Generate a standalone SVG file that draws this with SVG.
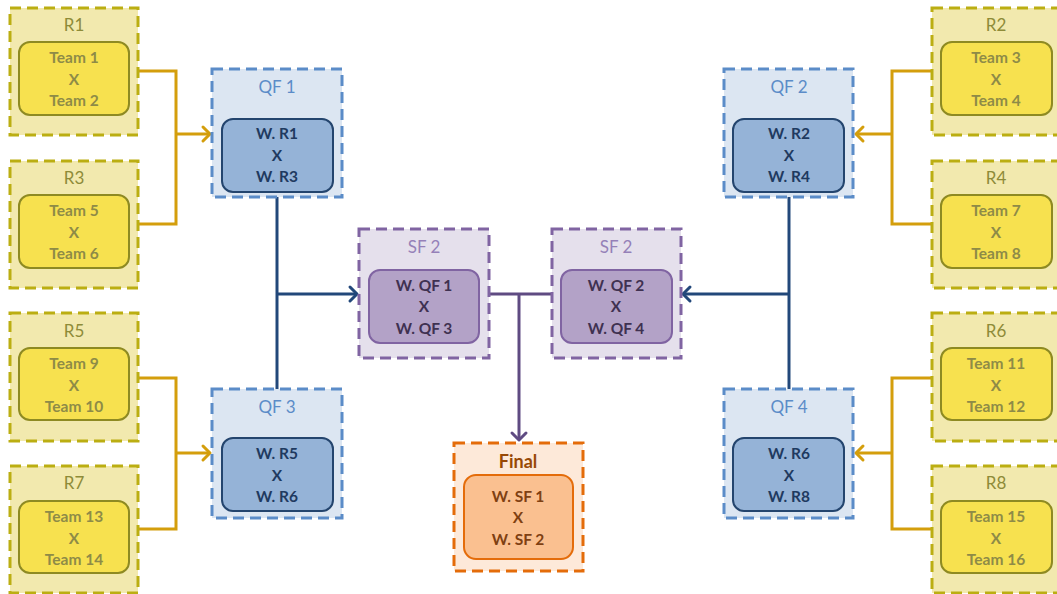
<svg xmlns="http://www.w3.org/2000/svg" width="1057" height="594" viewBox="0 0 1057 594">
<defs>
<style>
text{font-family:Lato,"Open Sans","Liberation Sans",sans-serif;text-anchor:middle}
.ro{fill:#F2E9AE;stroke:#BBAE12;stroke-width:3;stroke-dasharray:11 6}
.ri{fill:#F7E14F;stroke:#8E8A22;stroke-width:2}
.rt{font-size:17px;fill:#8E8B38}
.rx{font-size:15.5px;font-weight:bold;fill:#8E8B47}
.qo{fill:#DCE6F2;stroke:#5B8CC8;stroke-width:3;stroke-dasharray:11 6}
.qi{fill:#95B3D7;stroke:#24456E;stroke-width:2}
.qt{font-size:17px;fill:#5B8CC8}
.qx{font-size:15.5px;font-weight:bold;fill:#1F3A60}
.so{fill:#E5E0EC;stroke:#8064A2;stroke-width:3;stroke-dasharray:11 6}
.si{fill:#B3A2C7;stroke:#8064A2;stroke-width:2}
.st{font-size:17px;fill:#9580B8}
.sx{font-size:15.5px;font-weight:bold;fill:#3F3151}
.fo{fill:#FDE9D9;stroke:#E46C0A;stroke-width:3;stroke-dasharray:11 6}
.fi{fill:#FAC090;stroke:#E46C0A;stroke-width:2}
.ft{font-size:18px;font-weight:bold;fill:#974806}
.fx{font-size:15.5px;font-weight:bold;fill:#7F4012}
.cy{fill:none;stroke:#D49E0C;stroke-width:3}
.cb{fill:none;stroke:#22487A;stroke-width:3}
.cp{fill:none;stroke:#5F4B82;stroke-width:3}
</style>
<marker id="ay" markerUnits="userSpaceOnUse" markerWidth="20" markerHeight="20" refX="0" refY="0" orient="auto" overflow="visible"><path d="M-7,-7 L0,0 L-7,7" fill="none" stroke="#D49E0C" stroke-width="3" stroke-linecap="round" stroke-linejoin="round"/></marker>
<marker id="ab" markerUnits="userSpaceOnUse" markerWidth="20" markerHeight="20" refX="0" refY="0" orient="auto" overflow="visible"><path d="M-7,-7 L0,0 L-7,7" fill="none" stroke="#22487A" stroke-width="3" stroke-linecap="round" stroke-linejoin="round"/></marker>
<marker id="ap" markerUnits="userSpaceOnUse" markerWidth="20" markerHeight="20" refX="0" refY="0" orient="auto" overflow="visible"><path d="M-7,-7 L0,0 L-7,7" fill="none" stroke="#5F4B82" stroke-width="3" stroke-linecap="round" stroke-linejoin="round"/></marker>
</defs>
<rect width="1057" height="594" fill="#FFFFFF"/>

<g id="connectors">
<path class="cy" d="M138,71 H176 V224 H138"/>
<path class="cy" d="M176,134 H210" marker-end="url(#ay)"/>
<path class="cy" d="M138,378 H176 V529 H138"/>
<path class="cy" d="M176,453 H210" marker-end="url(#ay)"/>
<path class="cy" d="M932,71 H892 V224 H932"/>
<path class="cy" d="M892,134 H856" marker-end="url(#ay)"/>
<path class="cy" d="M932,378 H892 V529 H932"/>
<path class="cy" d="M892,453 H856" marker-end="url(#ay)"/>
<path class="cb" d="M277,197 V389"/>
<path class="cb" d="M277,294 H357" marker-end="url(#ab)"/>
<path class="cb" d="M789,197 V389"/>
<path class="cb" d="M789,294 H683" marker-end="url(#ab)"/>
<path class="cp" d="M489,294 H552"/>
<path class="cp" d="M519,294 V440" marker-end="url(#ap)"/>
</g>

<g id="R1"><rect class="ro" x="10" y="8" width="128" height="127"/><text class="rt" x="74" y="31">R1</text><rect class="ri" x="19" y="42" width="110" height="73" rx="11"/><text class="rx" x="74" y="63">Team 1</text><text class="rx" x="74" y="85">X</text><text class="rx" x="74" y="106">Team 2</text></g>
<g id="R3"><rect class="ro" x="10" y="161" width="128" height="127"/><text class="rt" x="74" y="184">R3</text><rect class="ri" x="19" y="195" width="110" height="73" rx="11"/><text class="rx" x="74" y="216">Team 5</text><text class="rx" x="74" y="238">X</text><text class="rx" x="74" y="259">Team 6</text></g>
<g id="R5"><rect class="ro" x="10" y="313" width="128" height="128"/><text class="rt" x="74" y="337">R5</text><rect class="ri" x="19" y="348" width="110" height="72" rx="11"/><text class="rx" x="74" y="369">Team 9</text><text class="rx" x="74" y="391">X</text><text class="rx" x="74" y="412">Team 10</text></g>
<g id="R7"><rect class="ro" x="10" y="466" width="128" height="127"/><text class="rt" x="74" y="489">R7</text><rect class="ri" x="19" y="501" width="110" height="72" rx="11"/><text class="rx" x="74" y="522">Team 13</text><text class="rx" x="74" y="544">X</text><text class="rx" x="74" y="565">Team 14</text></g>

<g id="R2"><rect class="ro" x="932" y="8" width="130" height="127"/><text class="rt" x="996" y="31">R2</text><rect class="ri" x="941" y="42" width="111" height="73" rx="11"/><text class="rx" x="996" y="63">Team 3</text><text class="rx" x="996" y="85">X</text><text class="rx" x="996" y="106">Team 4</text></g>
<g id="R4"><rect class="ro" x="932" y="161" width="130" height="127"/><text class="rt" x="996" y="184">R4</text><rect class="ri" x="941" y="195" width="111" height="73" rx="11"/><text class="rx" x="996" y="216">Team 7</text><text class="rx" x="996" y="238">X</text><text class="rx" x="996" y="259">Team 8</text></g>
<g id="R6"><rect class="ro" x="932" y="313" width="130" height="128"/><text class="rt" x="996" y="337">R6</text><rect class="ri" x="941" y="348" width="111" height="72" rx="11"/><text class="rx" x="996" y="369">Team 11</text><text class="rx" x="996" y="391">X</text><text class="rx" x="996" y="412">Team 12</text></g>
<g id="R8"><rect class="ro" x="932" y="466" width="130" height="127"/><text class="rt" x="996" y="489">R8</text><rect class="ri" x="941" y="501" width="111" height="72" rx="11"/><text class="rx" x="996" y="522">Team 15</text><text class="rx" x="996" y="544">X</text><text class="rx" x="996" y="565">Team 16</text></g>

<g id="QF1"><rect class="qo" x="212" y="69" width="130" height="128"/><text class="qt" x="277" y="93">QF 1</text><rect class="qi" x="222" y="119" width="111" height="73" rx="11"/><text class="qx" x="277" y="139">W. R1</text><text class="qx" x="277" y="161">X</text><text class="qx" x="277" y="182">W. R3</text></g>
<g id="QF3"><rect class="qo" x="212" y="389" width="130" height="129"/><text class="qt" x="277" y="413">QF 3</text><rect class="qi" x="222" y="438" width="111" height="73" rx="11"/><text class="qx" x="277" y="459">W. R5</text><text class="qx" x="277" y="481">X</text><text class="qx" x="277" y="502">W. R6</text></g>
<g id="QF2"><rect class="qo" x="724" y="69" width="129" height="128"/><text class="qt" x="789" y="93">QF 2</text><rect class="qi" x="733" y="119" width="111" height="73" rx="11"/><text class="qx" x="789" y="139">W. R2</text><text class="qx" x="789" y="161">X</text><text class="qx" x="789" y="182">W. R4</text></g>
<g id="QF4"><rect class="qo" x="724" y="389" width="129" height="129"/><text class="qt" x="789" y="413">QF 4</text><rect class="qi" x="733" y="438" width="111" height="73" rx="11"/><text class="qx" x="789" y="459">W. R6</text><text class="qx" x="789" y="481">X</text><text class="qx" x="789" y="502">W. R8</text></g>

<g id="SF1"><rect class="so" x="359" y="229" width="130" height="129"/><text class="st" x="424" y="253">SF 2</text><rect class="si" x="369" y="270" width="110" height="73" rx="11"/><text class="sx" x="424" y="291">W. QF 1</text><text class="sx" x="424" y="312">X</text><text class="sx" x="424" y="334">W. QF 3</text></g>
<g id="SF2"><rect class="so" x="552" y="229" width="129" height="129"/><text class="st" x="616" y="253">SF 2</text><rect class="si" x="561" y="270" width="111" height="73" rx="11"/><text class="sx" x="616" y="291">W. QF 2</text><text class="sx" x="616" y="312">X</text><text class="sx" x="616" y="334">W. QF 4</text></g>

<g id="Final"><rect class="fo" x="454" y="443" width="129" height="128"/><text class="ft" x="518" y="468">Final</text><rect class="fi" x="464" y="475" width="109" height="84" rx="12"/><text class="fx" x="518" y="502">W. SF 1</text><text class="fx" x="518" y="523">X</text><text class="fx" x="518" y="545">W. SF 2</text></g>
</svg>
